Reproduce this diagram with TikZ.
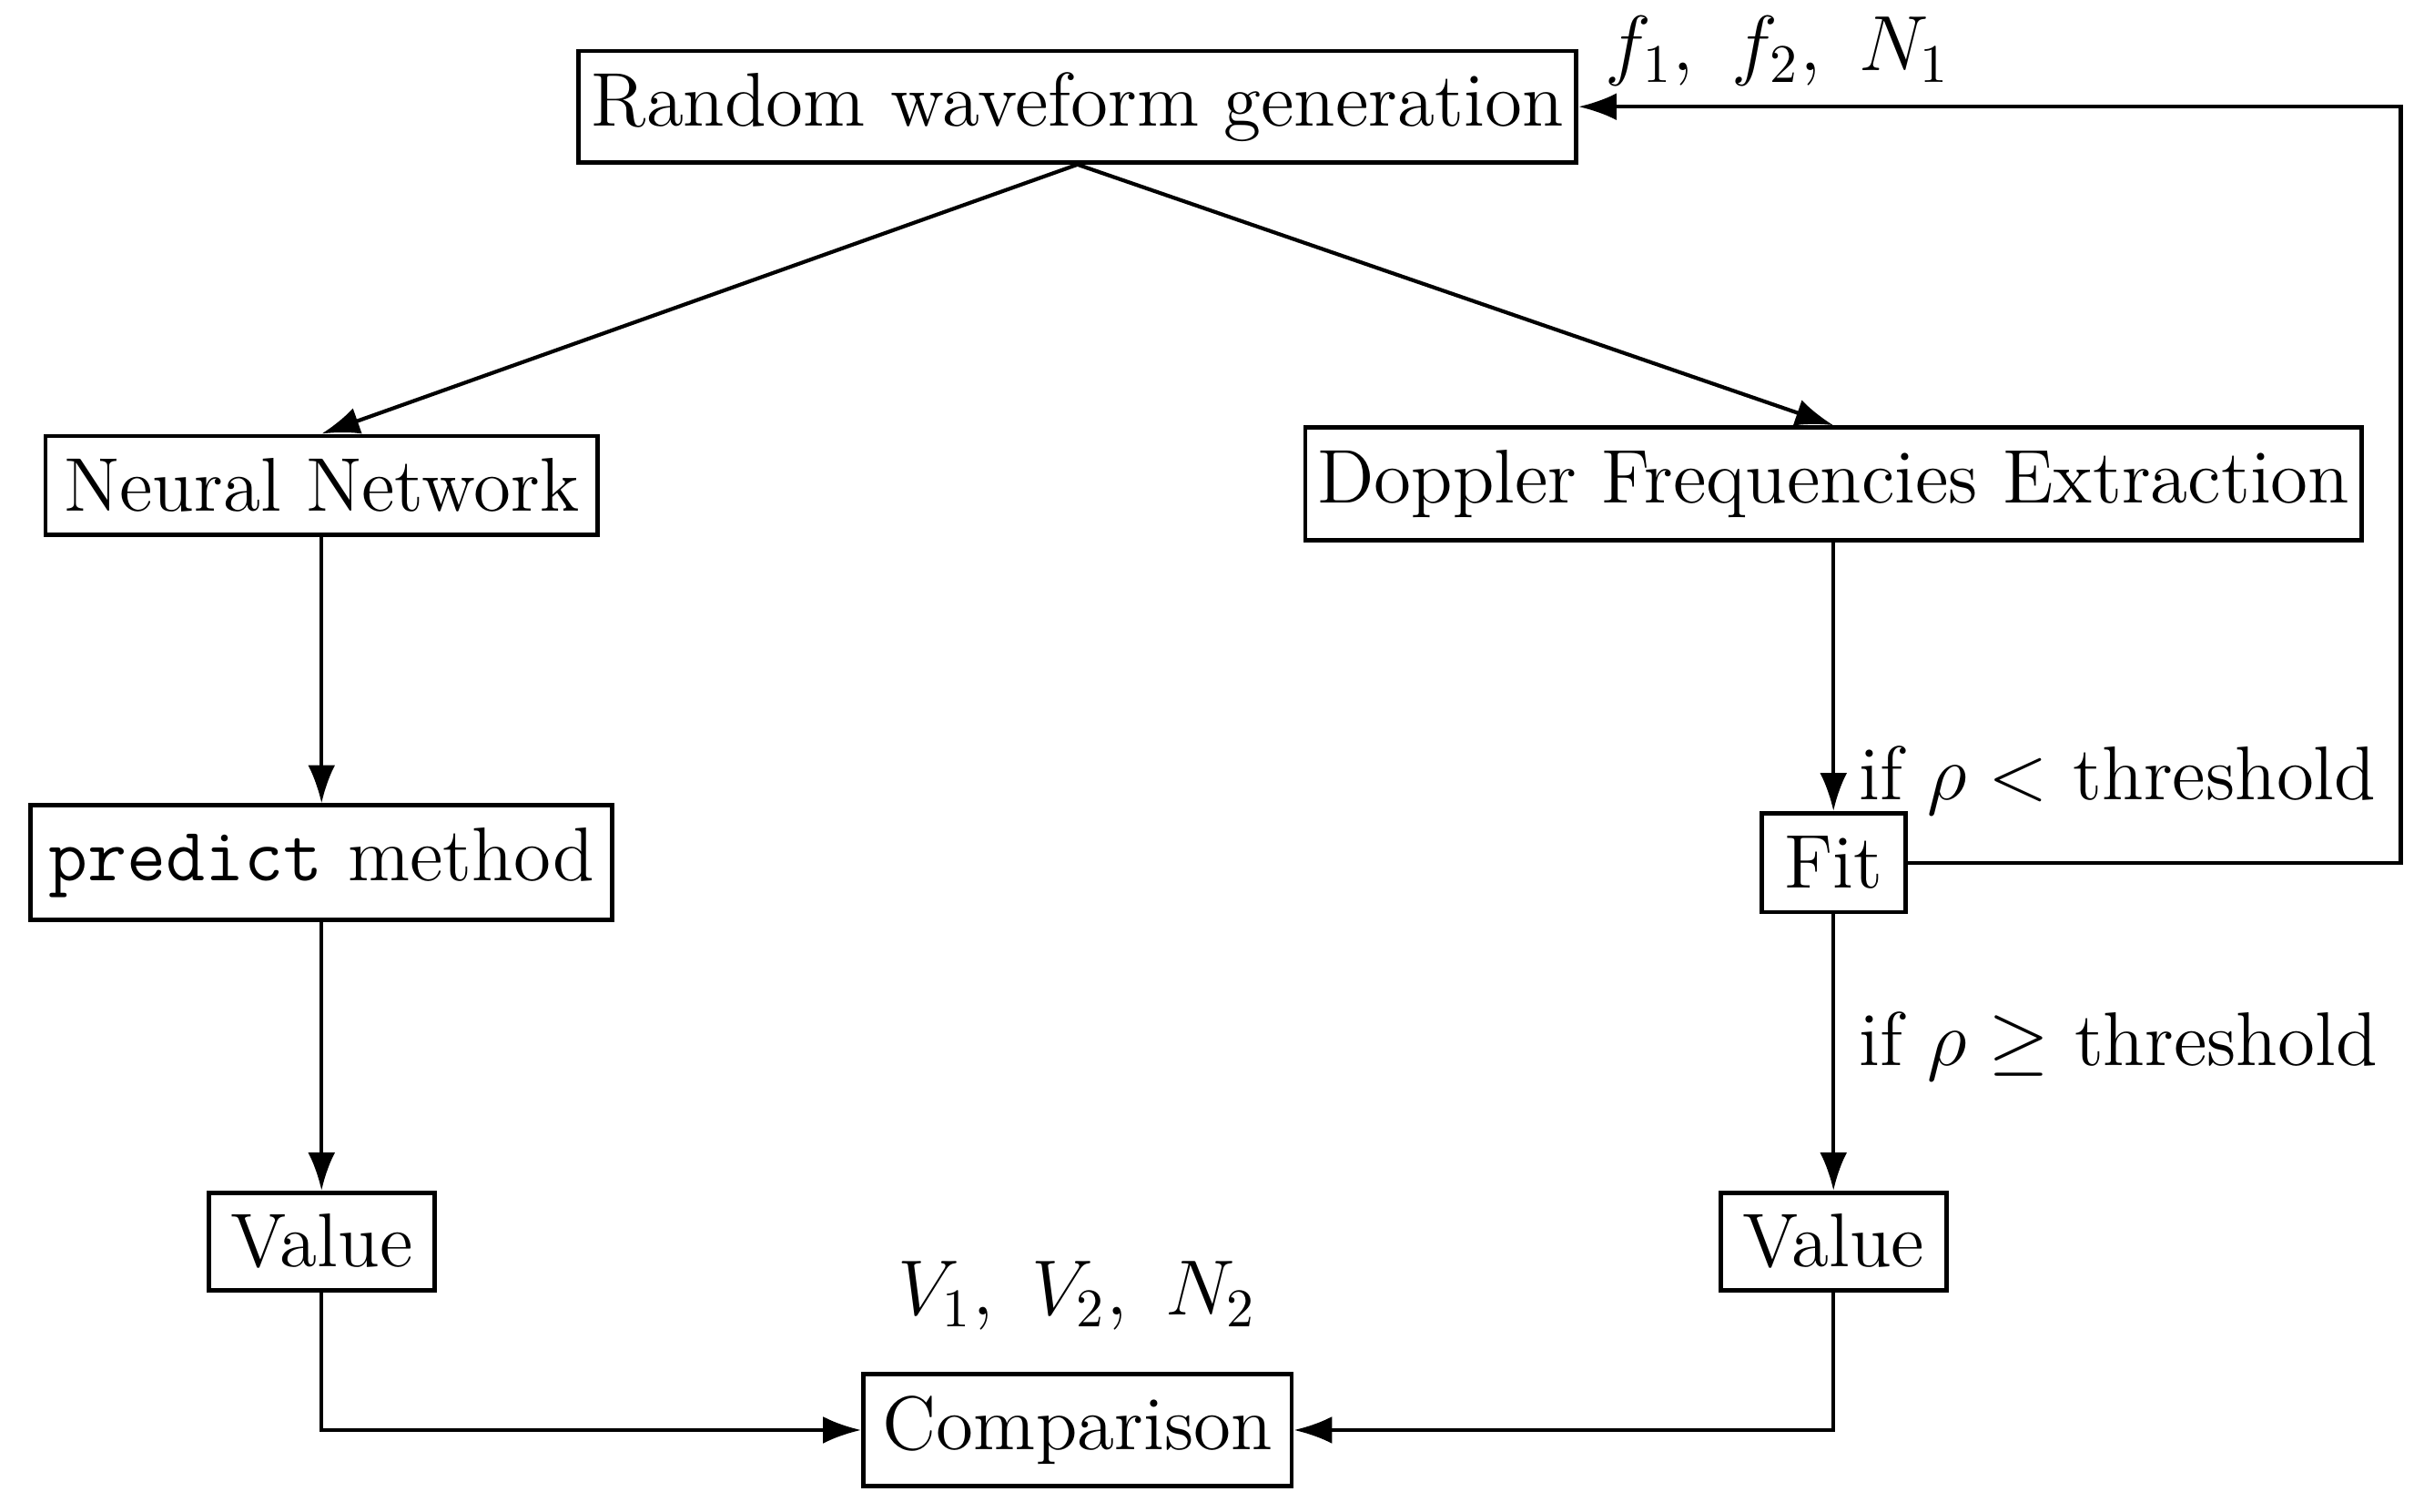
\documentclass[tikz,border=0pt]{standalone}
\usetikzlibrary{arrows.meta}
\begin{document}
\begin{tikzpicture}[x=0.01cm,y=-0.01cm,
  box/.style={draw,line width=0.8pt,inner sep=0pt,font=\fontsize{14}{17}\selectfont},
  lab/.style={font=\fontsize{14}{17}\selectfont,inner sep=0pt},
  arr/.style={-{Latex[length=7pt,width=5pt]},line width=0.7pt}]
\useasboundingbox (0,0) rectangle (1568,978);
\node[box,minimum width=645\pgflinewidth*0+6.45cm,minimum height=0.72cm] (rw) at (697,69) {Random waveform generation};
\node[box,minimum width=3.57cm,minimum height=0.64cm] (nn) at (208,314) {Neural Network};
\node[box,minimum width=6.83cm,minimum height=0.73cm] (dfe) at (1186,313) {Doppler Frequencies Extraction};
\node[box,minimum width=3.76cm,minimum height=0.74cm] (pm) at (208,558) {\texttt{predict} method};
\node[box,minimum width=0.93cm,minimum height=0.64cm] (fit) at (1186,558) {Fit};
\node[box,minimum width=1.46cm,minimum height=0.63cm] (vl) at (208,803) {Value};
\node[box,minimum width=1.46cm,minimum height=0.63cm] (vr) at (1186,803) {Value};
\node[box,minimum width=2.77cm,minimum height=0.72cm] (cmp) at (697,925) {Comparison};
\node[lab] (l1) at (1150,33) {$f_1,\ f_2,\ N_1$};
\node[lab,anchor=west] (l2) at (1202,505) {if $\rho <$ threshold};
\node[lab,anchor=west] (l3) at (1202,677) {if $\rho \geq$ threshold};
\node[lab] (l4) at (697,838) {$V_1,\ V_2,\ N_2$};
\coordinate (c1) at (1553,558);
\coordinate (c2) at (1553,69);
\draw[arr] (rw.south) -- (nn.north);
\draw[arr] (rw.south) -- (dfe.north);
\draw[arr] (nn) -- (pm);
\draw[arr] (pm) -- (vl);
\draw[arr] (dfe) -- (fit);
\draw[arr] (fit) -- (vr);
\draw[arr] (fit.east) -- (c1) -- (c2) -- (rw.east);
\draw[arr] (vl.south) |- (cmp.west);
\draw[arr] (vr.south) |- (cmp.east);
\end{tikzpicture}
\end{document}
